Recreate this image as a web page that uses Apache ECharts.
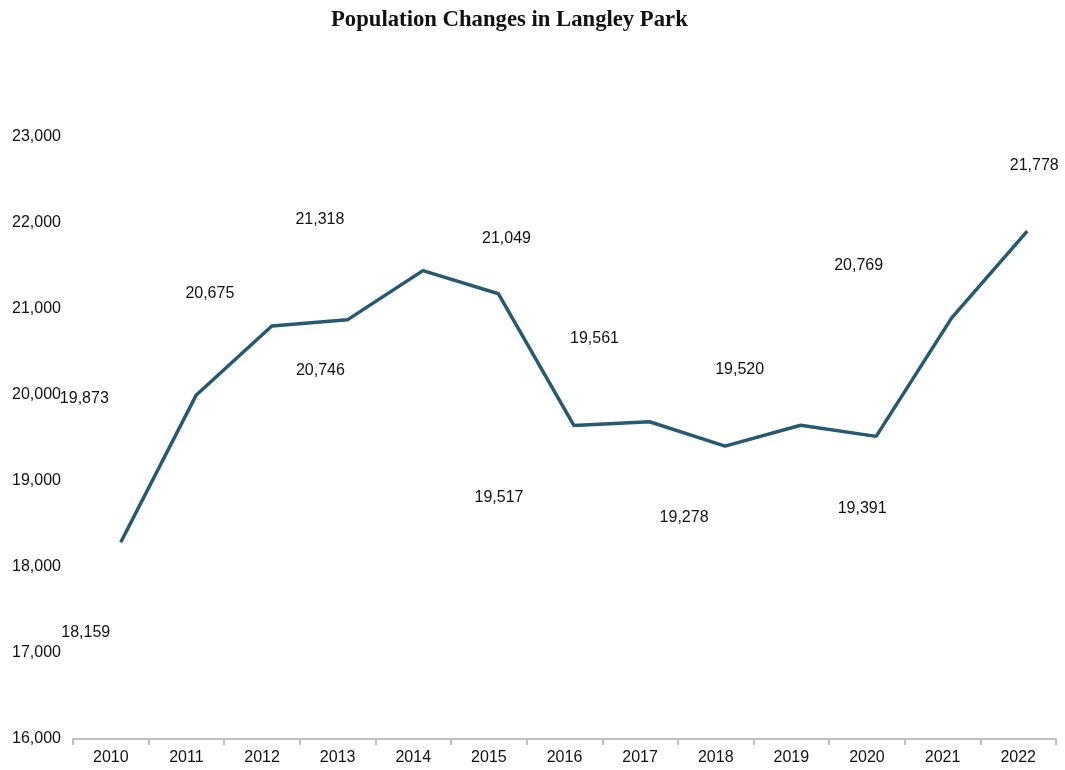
<!DOCTYPE html>
<html>
<head>
<meta charset="utf-8">
<title>Population Changes in Langley Park</title>
<script src="https://cdn.jsdelivr.net/npm/echarts@6/dist/echarts.min.js"></script>
<style>
    html, body { margin: 0; padding: 0; background: #fff; }
    #chart-main { width: 1065px; height: 770px; }
</style>
</head>
<body>
<div id="chart-main"></div>
<script>
    // data
    var years = ['2010', '2011', '2012', '2013', '2014', '2015', '2016',
                 '2017', '2018', '2019', '2020', '2021', '2022'];
    var population = [18159, 19873, 20675, 20746, 21318, 21049, 19517,
                      19561, 19278, 19520, 19391, 20769, 21778];

    // where each value label sits, relative to its point (px)
    var labelOffsets = [
        [-35, 90], [-112, 4], [-62, -32], [-27, 51], [-103, -51], [8, -55], [-75, 72],
        [-55, -83], [-41, 72], [-61, -56], [-14, 72], [-93, -52], [7, -65]
    ];

    var textColor = '#111';
    var font = 'Liberation Sans, Arial, sans-serif';

    var points = [];
    for (var i = 0; i < population.length; i++) {
        points.push({
            value: population[i],
            label: {offset: labelOffsets[i]}
        });
    }

    var option = {
        backgroundColor: '#fff',
        animation: false,
        title: {
            text: 'Population Changes in Langley Park',
            left: 326,
            top: 4,
            textStyle: {
                fontFamily: 'Liberation Serif, Times New Roman, serif',
                fontWeight: 'bold',
                fontSize: 22.7,
                color: '#111'
            }
        },
        grid: [
            {left: 73, top: 137, width: 983, height: 602},
            // the plotted line sits a little right of and above the axis grid
            {left: 83, top: 126, width: 983, height: 602}
        ],
        xAxis: [
            {
                type: 'category',
                gridIndex: 0,
                data: years,
                boundaryGap: true,
                axisLine: {lineStyle: {color: '#bfbfbf', width: 2}},
                axisTick: {show: true, length: 6, lineStyle: {color: '#bfbfbf', width: 2}},
                axisLabel: {
                    color: textColor,
                    fontFamily: font,
                    fontSize: 16,
                    margin: 11
                },
                splitLine: {show: false}
            },
            {
                type: 'category',
                gridIndex: 1,
                data: years,
                boundaryGap: true,
                show: false
            }
        ],
        yAxis: [
            {
                type: 'value',
                gridIndex: 0,
                min: 16000,
                max: 23000,
                interval: 1000,
                axisLine: {show: false},
                axisTick: {show: false},
                splitLine: {show: false},
                axisLabel: {
                    color: textColor,
                    fontFamily: font,
                    fontSize: 16,
                    align: 'left',
                    margin: 61,
                    formatter: function (v) {
                        return v.toLocaleString('en-US');
                    }
                }
            },
            {
                type: 'value',
                gridIndex: 1,
                min: 16000,
                max: 23000,
                interval: 1000,
                show: false
            }
        ],
        series: [
            {
                name: 'Population',
                type: 'line',
                xAxisIndex: 1,
                yAxisIndex: 1,
                data: points,
                symbol: 'circle',
                symbolSize: 1,
                showSymbol: true,
                itemStyle: {color: 'rgba(0,0,0,0)'},
                lineStyle: {color: '#255a73', width: 3.5},
                label: {
                    show: true,
                    position: 'inside',
                    color: textColor,
                    fontFamily: font,
                    fontSize: 16,
                    formatter: function (p) {
                        return p.value.toLocaleString('en-US');
                    }
                }
            }
        ]
    };

    var myChart = echarts.init(document.getElementById('chart-main'));
    myChart.setOption(option);
</script>
</body>
</html>
